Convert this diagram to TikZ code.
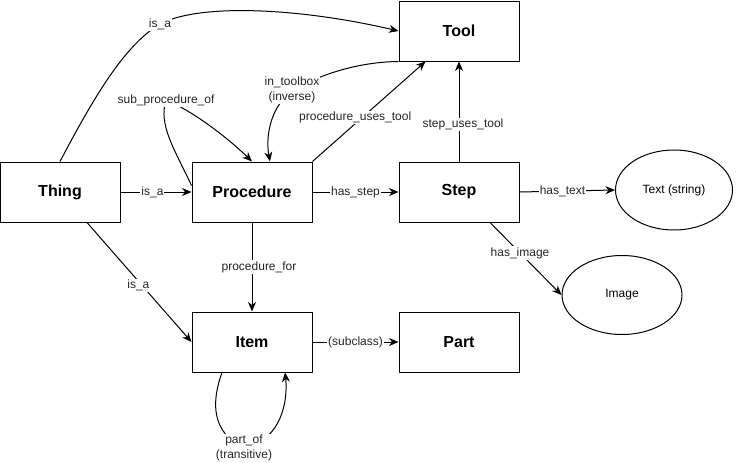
\documentclass[tikz,border=0pt]{standalone}
\usepackage{fontspec}
\setmainfont{Liberation Sans}
\usetikzlibrary{arrows.meta,shapes.geometric,calc}
\begin{document}
\begin{tikzpicture}[x=1pt,y=-1pt,
 box/.style={draw, line width=1pt, minimum width=120pt, minimum height=60pt, inner sep=0pt, font=\fontsize{16}{19}\selectfont\bfseries},
 oval/.style={draw, ellipse, line width=1pt, inner sep=0pt, font=\fontsize{12}{14}\selectfont},
 lbl/.style={fill=white, inner sep=1pt, font=\fontsize{12}{15}\selectfont, text=black!85, align=center},
 arr/.style={line width=1pt, -{Stealth[length=9.5pt,width=8pt,inset=3pt]}}]
\useasboundingbox (0,0) rectangle (736,463);
\node[box] (thing) at (60,192) {Thing};
\node[box] (proc) at (252,192) {Procedure};
\node[box] (step) at (459,192) {Step};
\node[box] (tool) at (459,31) {Tool};
\node[box] (item) at (252,342) {Item};
\node[box] (part) at (459,342) {Part};
\node[oval, minimum width=117pt, minimum height=80pt] (text) at (674,190) {Text (string)};
\node[oval, minimum width=120pt, minimum height=79pt] (image) at (622,295) {Image};

\draw[arr] (thing.north) .. controls (95,95) and (125,45) .. (160,24) node[lbl]{is\_a} .. controls (200,3) and (300,8) .. (tool.west);
\draw[arr] (thing.east) -- node[lbl, pos=0.45]{is\_a} (proc.west);
\draw[arr] ($(thing.south)+(27,0)$) -- node[lbl, pos=0.53, xshift=-4pt]{is\_a} (item.west);
\draw[arr] ($(proc.north west)+(0,24)$) .. controls (175,150) and (158,125) .. (166,100) node[lbl]{sub\_procedure\_of} .. controls (195,112) and (230,140) .. (proc.north);
\draw[arr] (tool.south west) .. controls (365,62) and (330,70) .. (292,90) node[lbl]{in\_toolbox\\(inverse)} .. controls (268,110) and (266,140) .. ($(proc.north)+(18,0)$);
\draw[arr] (proc.north east) -- node[lbl, pos=0.44, xshift=-7pt]{procedure\_uses\_tool} ($(tool.south west)+(27,0)$);
\draw[arr] (step.north) -- node[lbl, pos=0.37, xshift=4pt]{step\_uses\_tool} (tool.south);
\draw[arr] (proc.east) -- node[lbl]{has\_step} (step.west);
\draw[arr] (step.east) -- node[lbl, pos=0.45]{has\_text} (text.west);
\draw[arr] ($(step.south)+(31,0)$) -- node[lbl, pos=0.42]{has\_image} (image.west);
\draw[arr] (proc.south) -- node[lbl, xshift=7pt]{procedure\_for} (item.north);
\draw[arr] (item.east) -- node[lbl]{(subclass)} (part.west);
\draw[arr] ($(item.south)+(-30,0)$) .. controls (212,400) and (210,432) .. (244,448) node[lbl]{part\_of\\(transitive)} .. controls (282,440) and (288,400) .. ($(item.south)+(33,0)$);
\end{tikzpicture}
\end{document}
